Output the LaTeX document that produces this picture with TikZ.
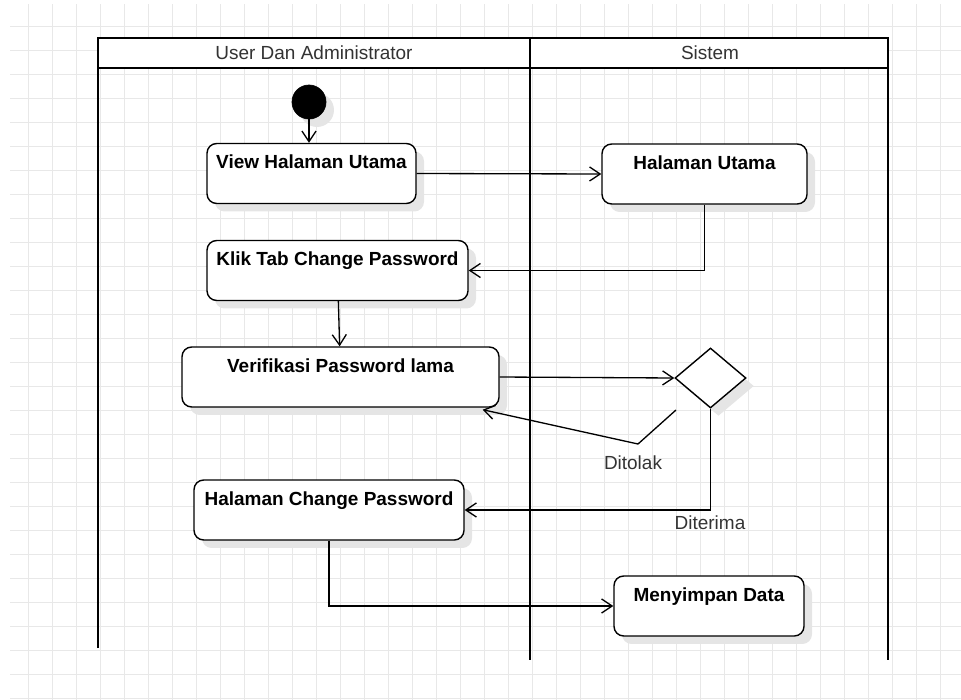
\documentclass[tikz,border=0pt]{standalone}
\usepackage{fontspec}
\setmainfont{Liberation Sans}
\usetikzlibrary{positioning,shapes.geometric,arrows.meta,shadows,calc}
\definecolor{gridgray}{RGB}{232,232,232}
\definecolor{txtgray}{RGB}{51,51,51}

\begin{document}
\begin{tikzpicture}[x=0.02cm,y=-0.02cm,font=\fontsize{10.8}{13}\selectfont,
  shade/.style={drop shadow={shadow xshift=0.16cm,shadow yshift=-0.16cm,fill=black!10,opacity=1}},
  act/.style={draw,rounded corners=5.5pt,fill=white,line width=.8pt,inner sep=0pt,
    minimum width=#1*0.02cm,text height=0.5cm,text depth=0.7cm,
    font=\fontsize{10.8}{13}\selectfont\bfseries,shade},
  flow/.style={line width=.75pt,-{Straight Barb[length=6pt,width=8pt]}},
  lane/.style={line width=1.6pt},
  lbl/.style={text=txtgray}]
\useasboundingbox (0,0) rectangle (961,700);
% grid
\foreach \gx in {28,52,...,940} \draw[gridgray] (\gx,4) -- (\gx,700);
\foreach \gy in {26,50,...,698} \draw[gridgray] (10,\gy) -- (961,\gy);

% swimlanes
\fill[white] (98,38) rectangle (888,68);
\draw[lane] (98,648) -- (98,38) -- (888,38) -- (888,660);
\draw[lane] (98,68) -- (888,68);
\draw[lane] (530,38) -- (530,660);
\node[lbl] (user) at (314,53) {User Dan Administrator};
\node[lbl] (sys) at (710,53) {Sistem};

% activities
\node[circle,draw,fill=black,inner sep=0pt,minimum size=34*0.02cm,shade] (start) at (309,102) {};
\node[act=209] (view) at (311.5,173.5) {View Halaman Utama};
\node[act=205] (utama) at (704.5,174) {Halaman Utama};
\node[act=261] (klik) at (337.5,270.5) {Klik Tab Change Password};
\node[act=317] (verif) at (340.5,377) {Verifikasi Password lama};
\node[diamond,draw,fill=white,line width=.8pt,inner sep=0pt,
  minimum width=71*0.02cm,minimum height=60*0.02cm,shade] (cek) at (710.5,378) {};
\node[act=270] (hcp) at (329,510) {Halaman Change Password};
\node[act=190] (simpan) at (709,606) {Menyimpan Data};

% flows
\draw[flow] (start) -- (start |- view.north);
\draw[flow] (view.east) -- (utama.west);
\draw[flow] (utama.south) |- (klik.east);
\draw[flow] (klik) -- (verif);
\draw[flow] (verif.east) -- (cek.west);
\coordinate (tolak1) at (676,410);
\coordinate (tolak2) at (638,444);
\draw[flow] (tolak1) -- (tolak2) -- ($(verif.south east)+(-17,2)$);
\node[lbl] (ditolak) at (633,463) {Ditolak};
\draw[flow] (cek.south) |- (hcp.east);
\node[lbl] (diterima) at (710,523) {Diterima};
\draw[flow] (hcp.south) |- (simpan.west);
\end{tikzpicture}
\end{document}
